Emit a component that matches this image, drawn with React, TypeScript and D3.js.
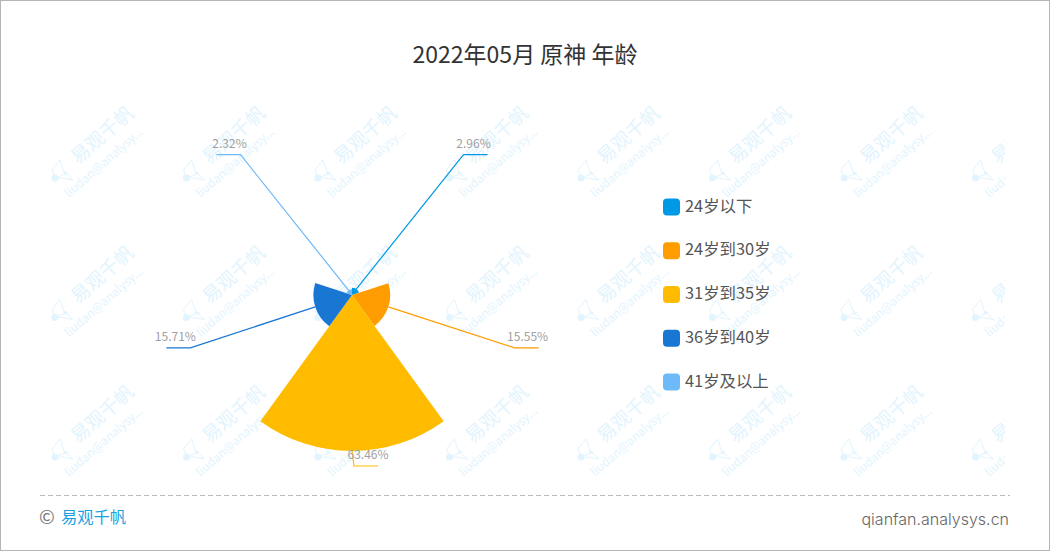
import { useEffect, useRef } from 'react';
import * as React from 'react';
import * as d3 from 'd3';

const titleText = '2022年05月 原神 年龄';
const categories = ['24岁以下', '24岁到30岁', '31岁到35岁', '36岁到40岁', '41岁及以上'];
const shares = [2.96, 15.55, 63.46, 15.71, 2.32];
const colors = ['#0099e6', '#ff9c00', '#ffbb00', '#1976d2', '#6eb9f7'];
// echarts shifts the label elbows a bit to keep the labels apart
const elbowShiftX = [11, 0, 2, 1, -11];
const elbowShiftY = [-2, 0, 0, 0, -2];
const textShiftX = [-2, 1, 2, -3, 1];

const FONT = '"Noto Sans CJK SC", "Noto Sans", sans-serif';

const App: React.FC = () => {
    const ref = useRef<SVGSVGElement>(null);

    useEffect(() => {
        const width = 1050, height = 551;
        const cx = 352, cy = 295;
        const svg = d3.select(ref.current)
            .attr('width', width)
            .attr('height', height)
            .style('position', 'absolute')
            .style('left', 0)
            .style('top', 0)
            .style('font-family', FONT);
        svg.selectAll('*').remove();

        svg.append('rect')
            .attr('x', 0.5).attr('y', 0.5)
            .attr('width', width - 1).attr('height', height - 1)
            .attr('fill', '#fff')
            .attr('stroke', '#b5b5b5');

        // Watermark tiles
        svg.append('clipPath').attr('id', 'wm-clip')
            .append('rect').attr('x', 0).attr('y', 90).attr('width', 1005).attr('height', 400);
        const wm = svg.append('g').attr('clip-path', 'url(#wm-clip)');
        const wmColor = '#e2f4fe';
        d3.range(8).forEach(col => {
            d3.range(3).forEach(row => {
                const g = wm.append('g')
                    .attr('transform', `translate(${57 + col * 131.5},${175 + row * 139.5})`);
                g.append('circle').attr('cx', -2).attr('cy', 3).attr('r', 3.5).attr('fill', wmColor);
                g.append('circle').attr('cx', 8).attr('cy', -2).attr('r', 1.6).attr('fill', wmColor);
                g.append('path')
                    .attr('d', 'M-2 3L11 -2M3 -15L-5 -5L-2 3M3 -15L7 -3L16 5M-2 3L5 3L16 5')
                    .attr('fill', 'none')
                    .attr('stroke', wmColor)
                    .attr('stroke-width', 1);
                g.append('text')
                    .attr('transform', 'translate(21,-10) rotate(-41)')
                    .attr('font-size', 19)
                    .attr('fill', wmColor)
                    .text('易观千帆');
                g.append('text')
                    .attr('transform', 'translate(12,23) rotate(-41)')
                    .attr('font-size', 12)
                    .attr('fill', wmColor)
                    .text('liudan@analysy...');
            });
        });

        // Title
        svg.append('text')
            .attr('x', 525).attr('y', 63)
            .attr('text-anchor', 'middle')
            .attr('font-size', 23)
            .attr('fill', '#333')
            .text(titleText);

        // Rose
        const radius = d3.scaleLinear().domain([0, d3.max(shares)!]).range([0, 156]);
        const pie = d3.pie<number>().value(() => 1).sort(null);
        const arcs = pie(shares);
        const arc = d3.arc<d3.PieArcDatum<number>>()
            .innerRadius(0)
            .outerRadius(d => radius(d.data));
        const rose = svg.append('g').attr('transform', `translate(${cx},${cy})`);

        const elbowRadius = 171;
        arcs.forEach((d, i) => {
            const mid = (d.startAngle + d.endAngle) / 2;
            const r = radius(d.data);
            const sx = Math.sin(mid), sy = -Math.cos(mid);
            const ex = elbowRadius * sx + elbowShiftX[i];
            const ey = elbowRadius * sy + elbowShiftY[i];
            const dir = ex >= -2 ? 1 : -1;
            const linePath = d3.line()([[r * sx, r * sy], [ex, ey], [ex + dir * 24, ey]]);
            rose.append('path')
                .attr('d', linePath)
                .attr('fill', 'none')
                .attr('stroke', colors[i])
                .attr('stroke-width', 1.2);
            rose.append('path')
                .attr('d', arc(d))
                .attr('fill', colors[i]);
        });
        arcs.forEach((d, i) => {
            const mid = (d.startAngle + d.endAngle) / 2;
            const ex = elbowRadius * Math.sin(mid) + elbowShiftX[i];
            const ey = -elbowRadius * Math.cos(mid) + elbowShiftY[i];
            const dir = ex >= -2 ? 1 : -1;
            rose.append('text')
                .attr('x', ex + dir * 12 + textShiftX[i])
                .attr('y', ey - 7)
                .attr('text-anchor', 'middle')
                .attr('font-size', 12)
                .attr('fill', '#a0a0a0')
                .text(`${d.data.toFixed(2)}%`);
        });

        // Legend
        const legendY = d3.scalePoint<string>().domain(categories).range([207, 382]);
        const legend = svg.append('g');
        categories.forEach((c, i) => {
            legend.append('rect')
                .attr('x', 663).attr('y', legendY(c)! - 8.5)
                .attr('width', 17).attr('height', 17)
                .attr('rx', 4)
                .attr('fill', colors[i]);
            legend.append('text')
                .attr('x', 685).attr('y', legendY(c)! + 4.5)
                .attr('font-size', 16.4)
                .attr('fill', '#555')
                .text(c);
        });

        // Footer
        svg.append('line')
            .attr('x1', 40).attr('x2', 1010)
            .attr('y1', 495.5).attr('y2', 495.5)
            .attr('stroke', '#bbb')
            .attr('stroke-dasharray', '5 3');
        svg.append('text')
            .attr('x', 39).attr('y', 524)
            .attr('font-size', 19)
            .attr('fill', '#777')
            .text('©');
        svg.append('text')
            .attr('x', 61).attr('y', 523)
            .attr('font-size', 16.3)
            .attr('fill', '#1a9fe0')
            .text('易观千帆');
        svg.append('text')
            .attr('x', 1009).attr('y', 525)
            .attr('text-anchor', 'end')
            .attr('font-family', 'Inter, sans-serif')
            .attr('font-weight', 300)
            .attr('font-size', 16)
            .attr('fill', '#666')
            .text('qianfan.analysys.cn');
    }, []);

    return <svg ref={ref} />;
};

export default App;
